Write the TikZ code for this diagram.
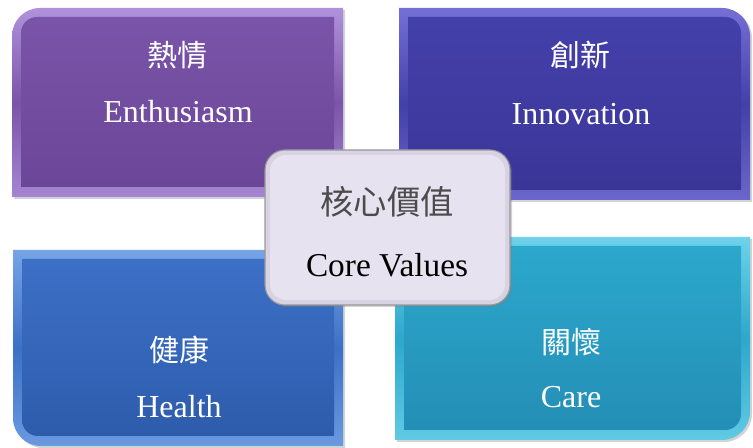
\documentclass[tikz,border=0pt]{standalone}
\usepackage{fontspec}
\setmainfont{Liberation Serif}
\newfontfamily\cjk{Noto Sans CJK TC}
\usetikzlibrary{shadows}

\definecolor{enthface}{RGB}{122,84,168}
\definecolor{enthdark}{RGB}{108,70,152}
\definecolor{enthrim}{RGB}{176,146,220}
\definecolor{innoface}{RGB}{68,64,170}
\definecolor{innodark}{RGB}{58,54,152}
\definecolor{innorim}{RGB}{116,112,212}
\definecolor{healface}{RGB}{60,112,198}
\definecolor{healdark}{RGB}{46,92,172}
\definecolor{healrim}{RGB}{118,164,230}
\definecolor{careface}{RGB}{44,168,204}
\definecolor{caredark}{RGB}{36,142,182}
\definecolor{carerim}{RGB}{110,210,234}
\definecolor{coreface}{RGB}{231,226,239}
\definecolor{corerim}{RGB}{216,210,226}

\tikzset{
  shade box/.style={drop shadow={opacity=0.35,shadow xshift=1.5pt,shadow yshift=-1.5pt}},
  value zh/.style={text=white,font=\cjk\fontsize{22.5}{26}\selectfont},
  value en/.style={text=white,anchor=base,font=\fontsize{24}{28}\selectfont},
}

\begin{document}
\begin{tikzpicture}[x=0.75pt,y=0.75pt]
        \useasboundingbox (0,0) rectangle (753,448);
        % Enthusiasm, round corner top left
        \path[shade box,top color=enthrim,bottom color=enthrim!80!enthface,middle color=enthface] (12,251) -- (12,412) arc[start angle=180,end angle=90,radius=21pt] -- (343,440) -- (343,251) -- cycle;
        \path[top color=enthface,bottom color=enthdark] (21,261) -- (21,415) arc[start angle=180,end angle=90,radius=12pt] -- (334,431) -- (334,261) -- cycle;
        % Innovation, round corner top right
        \path[shade box,top color=innorim,bottom color=innorim!80!innoface,middle color=innoface] (399,248) -- (399,440) -- (722,440) arc[start angle=90,end angle=0,radius=21pt] -- (750,248) -- cycle;
        \path[top color=innoface,bottom color=innodark] (408,258) -- (408,431) -- (725,431) arc[start angle=90,end angle=0,radius=12pt] -- (741,258) -- cycle;
        % Health, round corner bottom left
        \path[shade box,top color=healrim,bottom color=healrim!80!healface,middle color=healface] (13,198) -- (343,198) -- (343,2) -- (41,2) arc[start angle=270,end angle=180,radius=21pt] -- cycle;
        \path[top color=healface,bottom color=healdark] (22,189) -- (334,189) -- (334,12) -- (38,12) arc[start angle=270,end angle=180,radius=12pt] -- cycle;
        % Care, round corner bottom right
        \path[shade box,top color=carerim,bottom color=carerim!80!careface,middle color=careface] (395,211) -- (750,211) -- (750,36) arc[start angle=0,end angle=-90,radius=21pt] -- (395,8) -- cycle;
        \path[top color=careface,bottom color=caredark] (404,202) -- (741,202) -- (741,34) arc[start angle=0,end angle=-90,radius=12pt] -- (404,18) -- cycle;
        % centre panel on top
        \path[shade box,draw=gray!80,line width=0.8pt,fill=corerim,rounded corners=15pt] (265,143) rectangle (510,298);
        \path[fill=coreface,rounded corners=12pt] (270,148) rectangle (505,293);

        \node[value zh] (enthzh) at (177,393) {熱情};
        \node[value en] (enth) at (178,325) {Enthusiasm};
        \node[value zh] (innozh) at (580,393) {創新};
        \node[value en] (inno) at (581,323) {Innovation};
        \node[value zh] (healzh) at (179,98) {健康};
        \node[value en] (heal) at (179,30) {Health};
        \node[value zh] (carezh) at (571,106) {關懷};
        \node[value en] (care) at (571,40) {Care};
        \node[text=black!70,font=\cjk\fontsize{25}{29}\selectfont] (corezh) at (387,246) {核心價值};
        \node[anchor=base,font=\fontsize{25}{29}\selectfont] (core) at (387,171) {Core Values};
    \end{tikzpicture}
\end{document}
